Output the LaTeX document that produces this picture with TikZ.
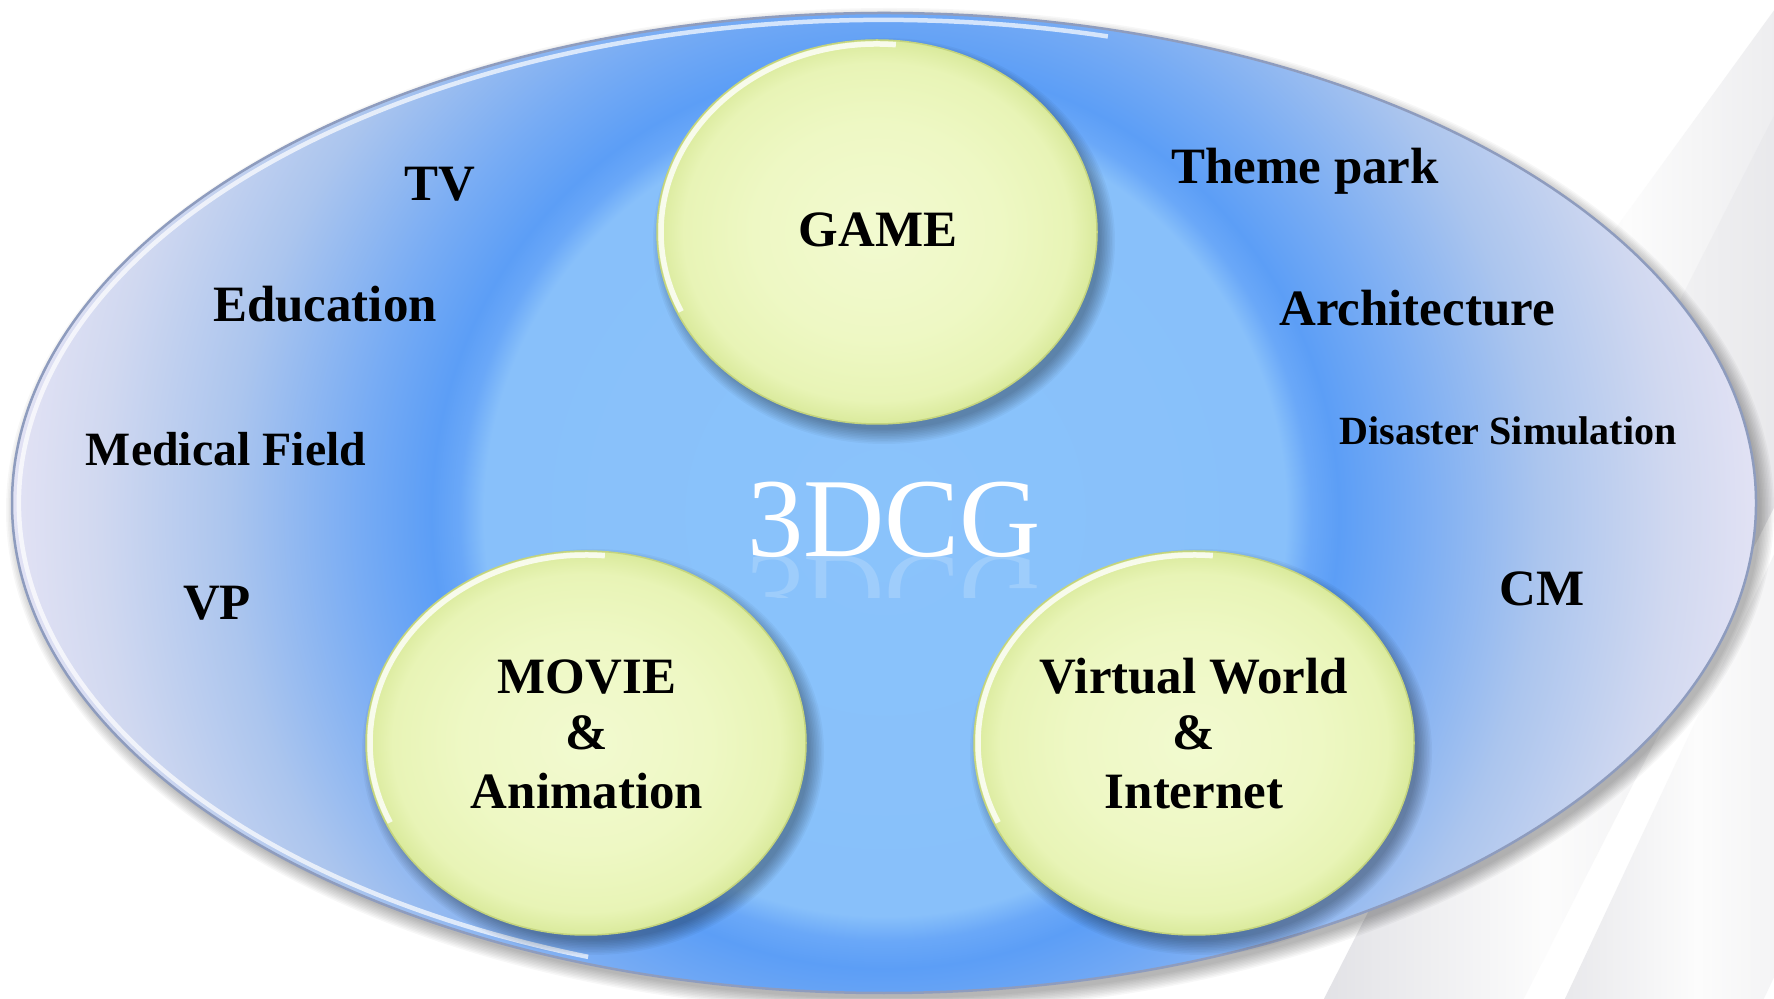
\documentclass[tikz,border=0pt]{standalone}
\usepackage{fontspec}
\setmainfont{Liberation Serif}
\usetikzlibrary{shapes.geometric}
\definecolor{bA}{HTML}{8AC3FB}
\definecolor{bB}{HTML}{88C0FA}
\definecolor{bC}{HTML}{6AA8F8}
\definecolor{bD}{HTML}{5C9EF6}
\definecolor{bE}{HTML}{76ABF4}
\definecolor{bF}{HTML}{ABC5EE}
\definecolor{bG}{HTML}{D0D8F0}
\definecolor{bH}{HTML}{E2E2F4}
\definecolor{rimcol}{HTML}{8E9CBE}
\definecolor{yA}{HTML}{F2FAD0}
\definecolor{yB}{HTML}{EEF8C4}
\definecolor{yC}{HTML}{E8F4B6}
\definecolor{yD}{HTML}{DAEA9C}
\definecolor{yrim}{HTML}{C4D47E}
\definecolor{tA}{HTML}{B8B8BE}
\definecolor{tB}{HTML}{E2E2E6}
\definecolor{tC}{HTML}{FCFCFC}
\definecolor{tD}{HTML}{E0E0E4}
\definecolor{tE}{HTML}{CACACF}
\pgfdeclareradialshading{bluedisc}{\pgfpointorigin}{color(0bp)=(bA); color(11.5bp)=(bB); color(12.2bp)=(bC); color(13bp)=(bD); color(15bp)=(bE); color(18.8bp)=(bF); color(22.5bp)=(bG); color(25bp)=(bH); color(50bp)=(bH)}
\pgfdeclareradialshading{yellowdisc}{\pgfpointorigin}{color(0bp)=(yA); color(14bp)=(yB); color(22bp)=(yC); color(25bp)=(yD); color(50bp)=(yD)}
\pgfdeclarehorizontalshading{tubeshade}{100bp}{color(0bp)=(tA); color(25bp)=(tA); color(29bp)=(tB); color(42bp)=(tC); color(62bp)=(tD); color(75bp)=(tE); color(100bp)=(tE)}
\newcommand\discshadow[2]{\foreach \k in {0,...,9}{\fill[black,opacity=0.035] (#1+7,#2-9) ellipse ({231-1.6*\k} and {203-1.6*\k});}}
\newcommand\dischighlight[1]{\draw[white,opacity=0.8,line width=0.55mm] (#1.center) ++(85:216 and 188) arc[start angle=85,end angle=205,x radius=216,y radius=188];}
\begin{document}
\begin{tikzpicture}[x=0.1mm,y=0.1mm,
  lbl/.style={font=\bfseries\fontsize{14.5}{16}\selectfont,anchor=base,inner sep=0pt,text=black},
  sml/.style={font=\bfseries\fontsize{11.4}{13}\selectfont,anchor=base,inner sep=0pt,text=black},
  big/.style={font=\fontsize{32}{36}\selectfont,anchor=base,inner sep=0pt,text=white},
  tube/.style={rectangle,draw=none,shading=tubeshade,inner sep=0pt},
  disc/.style={ellipse,minimum width=44mm,minimum height=38.4mm,inner sep=0pt,shading=yellowdisc,draw=yrim,line width=0.15mm}]
\clip (0,0) rectangle (1774,998);
\fill[white] (0,0) rectangle (1774,998);
% background tubes
\node[tube,minimum width=20mm,minimum height=91.5mm,rotate=-36] (tubeu) at (1738,768) {};
\node[tube,minimum width=17.8mm,minimum height=150mm,rotate=-27] (tube1) at (1678,498) {};
\node[tube,minimum width=18mm,minimum height=120mm,rotate=-25.2] (tube2) at (1805,298) {};
% ellipse shadow
\foreach \k in {0,...,9}{\fill[black,opacity=0.03] (890,488) ellipse ({884-1.5*\k} and {502-1.5*\k});}
% main ellipse
\begin{scope}
\clip (884,495) ellipse (872 and 490);
\shade[shading=bluedisc] (885,483) circle (872);
\end{scope}
\draw[rimcol,line width=0.25mm] (884,495) ellipse (872 and 490);
\draw[white,opacity=0.7,line width=0.45mm] (884,495) ++(75:865 and 483) arc[start angle=75,end angle=250,x radius=865,y radius=483];
% discs
\discshadow{877}{766}
\discshadow{586}{255}
\discshadow{1194}{255}
\node[disc] (game) at (877,766) {};
\node[disc] (movie) at (586,255) {};
\node[disc] (virtual) at (1194,255) {};
\dischighlight{game}
\dischighlight{movie}
\dischighlight{virtual}
% labels
\node[lbl] (tv) at (440,797) {TV};
\node[lbl] (edu) at (325,676) {Education};
\node[lbl,font=\bfseries\fontsize{13.6}{15}\selectfont] (med) at (226,532) {Medical Field};
\node[lbl] (vp) at (217,378) {VP};
\node[lbl] (theme) at (1305,814) {Theme park};
\node[lbl] (arch) at (1417,672) {Architecture};
\node[sml] (dis) at (1508,553) {Disaster Simulation};
\node[lbl] (cm) at (1542,392) {CM};
\node[lbl] (gamet) at (878,751) {GAME};
\node[lbl] (movie1) at (587,304) {MOVIE};
\node[lbl] (movie2) at (587,248) {\&};
\node[lbl] (movie3) at (587,189) {Animation};
\node[lbl] (vw1) at (1194,304) {Virtual World};
\node[lbl] (vw2) at (1194,248) {\&};
\node[lbl] (vw3) at (1194,189) {Internet};
\node[big] (cg) at (894,441) {3DCG};
\begin{scope}
\clip (700,441) rectangle (1100,400);
\node[big,yscale=-1,opacity=0.18] (cgr) at (894,441) {3DCG};
\end{scope}
\end{tikzpicture}
\end{document}
